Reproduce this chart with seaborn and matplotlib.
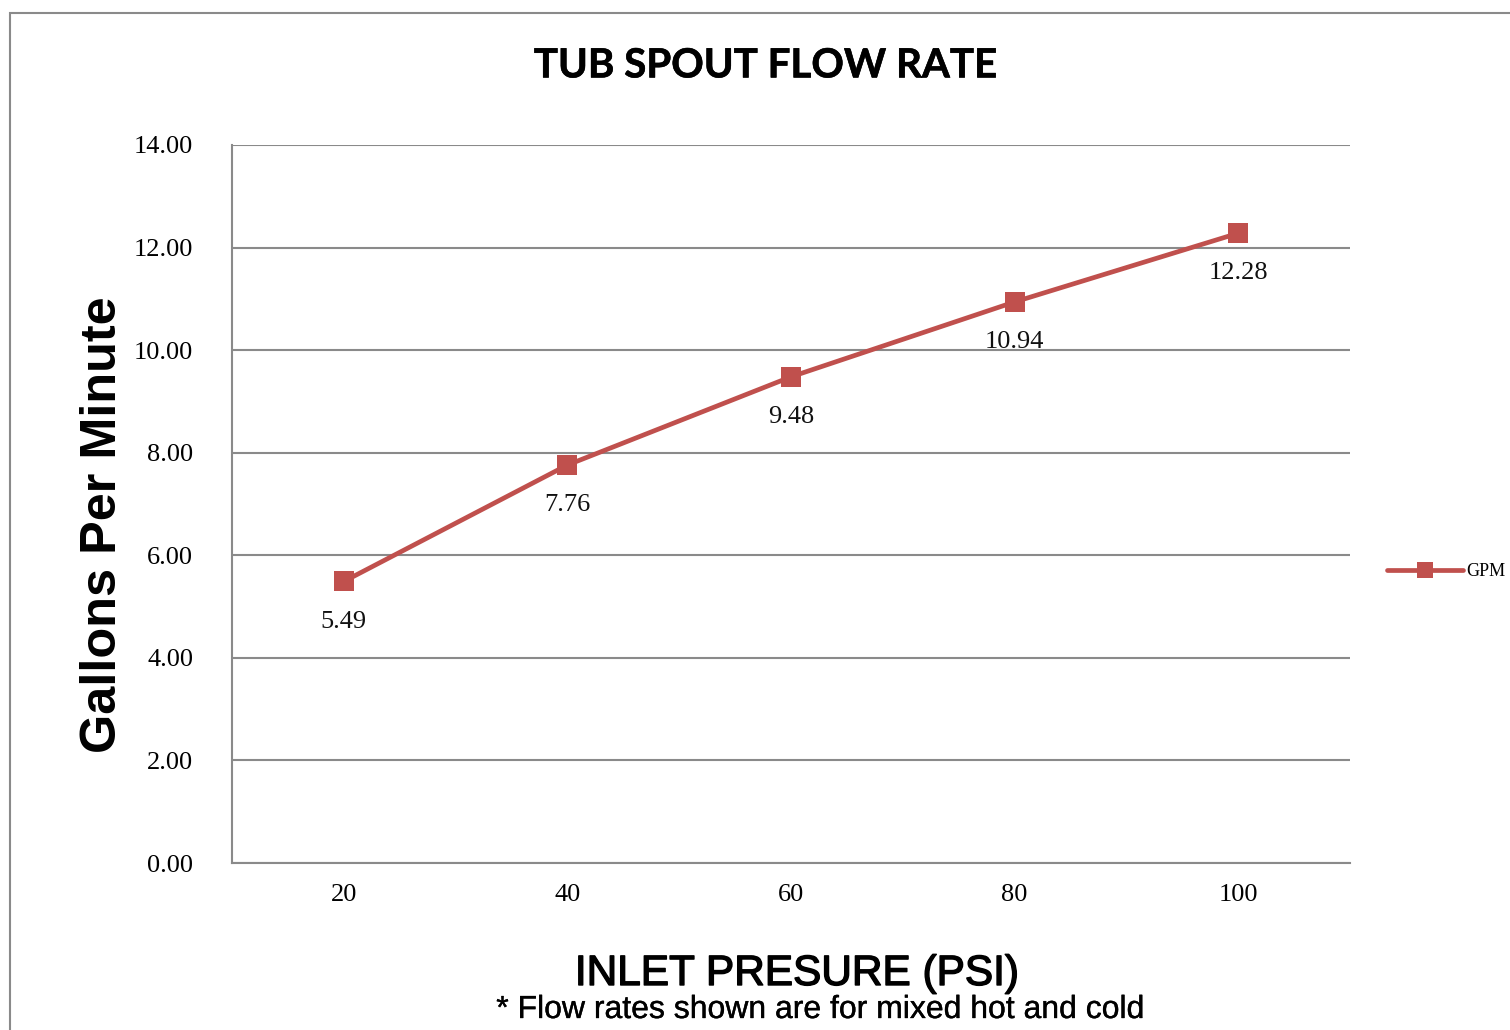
import matplotlib
matplotlib.use("Agg")
import matplotlib.pyplot as plt
import matplotlib.patheffects as pe
import seaborn as sns
import pandas as pd
from matplotlib.patches import Rectangle

# Data
pressure = [20, 40, 60, 80, 100]
gpm = [5.49, 7.76, 9.48, 10.94, 12.28]
y_ticks = [0, 2, 4, 6, 8, 10, 12, 14]

df = pd.DataFrame({"pressure": pressure, "GPM": gpm})

sns.set_style("white")
plt.rcParams["text.color"] = "black"
plt.rcParams["xtick.color"] = "black"
plt.rcParams["ytick.color"] = "black"
line_color = "#C0504D"
grid_color = "#8A8A8A"
serif = ["Liberation Serif", "DejaVu Serif"]
sans = ["Liberation Sans", "DejaVu Sans"]

fig = plt.figure(figsize=(15.1, 10.3), dpi=100)
ax = fig.add_axes([232 / 1510, 1 - 863 / 1030, (1350 - 232) / 1510, (863 - 145) / 1030])

sns.lineplot(data=df, x="pressure", y="GPM", ax=ax, color=line_color, linewidth=3.4,
             marker="s", markersize=14, markeredgewidth=0, label="GPM", zorder=3)

# data labels below each point
for x, y in zip(pressure, gpm):
    ax.annotate(f"{y:.2f}", (x, y), xytext=(0, -29), textcoords="offset points",
                ha="center", va="center", fontsize=19, family=serif, color="#111111")

ax.set_xlim(10, 110)
ax.set_ylim(0, 14)
ax.set_xticks(pressure)
ax.set_xticklabels([str(p) for p in pressure], fontsize=19, family=serif)
ax.set_yticks(y_ticks)
ax.set_yticklabels([f"{t:.2f}" for t in y_ticks], fontsize=19, family=serif)
ax.tick_params(axis="x", length=0, pad=15)
ax.tick_params(axis="y", length=0, pad=28)
ax.yaxis.grid(True, color=grid_color, linewidth=1.5)
ax.set_axisbelow(True)
for s in ["top", "right"]:
    ax.spines[s].set_visible(False)
for s in ["left", "bottom"]:
    ax.spines[s].set_color(grid_color)
    ax.spines[s].set_linewidth(1.5)
ax.set_xlabel("")
ax.set_ylabel("")

handles, labels = ax.get_legend_handles_labels()
ax.get_legend().remove()
fig.legend(handles, labels, loc="center left", bbox_to_anchor=(1387 / 1510, 1 - 572 / 1030),
           frameon=False, borderaxespad=0, borderpad=0,
           prop={"family": serif, "size": 13}, handlelength=4.2, handletextpad=0.2,
           markerscale=0.85)

# titles and axis labels
fig.text(0.507, 0.936, "TUB SPOUT FLOW RATE", ha="center", va="center",
         fontsize=29, fontweight="bold", family=["Lato", "DejaVu Sans"],
         path_effects=[pe.withStroke(linewidth=0.4, foreground="black")])
fig.text(103 / 1510, 1 - 525 / 1030, "Gallons Per Minute", rotation=90, ha="center", va="center",
         fontsize=36.3, fontweight="bold", family=sans)
fig.text(797 / 1510, 1 - 974 / 1030, "INLET PRESURE (PSI)", ha="center", va="center",
         fontsize=30.5, family=sans,
         path_effects=[pe.withStroke(linewidth=1.0, foreground="black")])
fig.text(821 / 1510, 1 - 1010 / 1030, "* Flow rates shown are for mixed hot and cold",
         ha="center", va="center", fontsize=23, family=sans,
         path_effects=[pe.withStroke(linewidth=0.25, foreground="black")])

# outer chart border (cropped at right and bottom)
fig.patches.append(Rectangle((10 / 1510, -0.1), 1.2, 1 - 13 / 1030 + 0.1, transform=fig.transFigure,
                             fill=False, edgecolor=grid_color, linewidth=1.5))

fig.savefig("out.png", dpi=100)
